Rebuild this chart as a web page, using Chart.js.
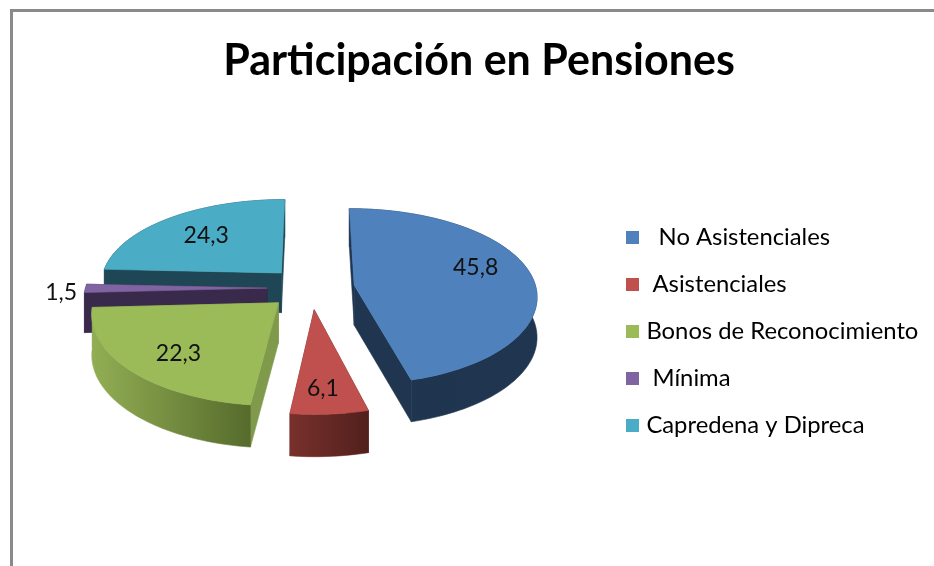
<!DOCTYPE html>
<html>
<head>
<meta charset="utf-8">
<style>html,body{margin:0;padding:0;background:#fff}canvas{display:block;filter:blur(0.4px)}</style>
<script src="https://cdn.jsdelivr.net/npm/chart.js@4/dist/chart.umd.min.js"></script>
</head>
<body>
<div style="width:934px;height:566px"><canvas id="c" width="934" height="566"></canvas></div>
<script>
const categories = ["  No Asistenciales", " Asistenciales", "Bonos de Reconocimiento", " Mínima", "Capredena y Dipreca"];
const values = [45.8, 6.1, 22.3, 1.5, 24.3];
const chartTitle = "Participación en Pensiones";
const topColors = ["#4f81bd", "#c0504d", "#9bbb59", "#8064a2", "#4bacc6"];
const wallFrom = ["#20344f", "#78302c", "#92ae54", "#39294a", "#1e4654"];
const wallTo = ["#1f3550", "#52201c", "#566b2c", "#39294a", "#1e4654"];
const cutColors = ["#1f3550", "#6a2a27", "#7f9a4b", "#39294a", "#1e4654"];
const drawOrder = [4, 3, 0, 2, 1];
const labelRadius = [136, 143, 134, 211, 125];
const labelTurn = [-10, 1, -2.5, -2, 0.7];

const CX = 311, CY = 288, K = 0.472, Q = 3.15e-4, S = 6e-4, XS = 0.972;
function project(X, Y) {
  return { x: CX + XS * X * (1 + S * Y), y: CY + K * Y + Q * Y * Y };
}
function depthAt(Y) { return 40 + Y * 0.01; }

const pie3d = {
  id: 'pie3d',
  beforeDraw(chart) {
    const c = chart.ctx;
    c.save();
    c.fillStyle = '#fff';
    c.fillRect(0, 0, chart.width, chart.height);
    c.fillStyle = '#8a8a8a';
    c.fillRect(10, 9, chart.width - 10, 3);
    c.fillRect(10, 9, 3, chart.height - 9);
    c.restore();
  },
  afterLayout(chart) {
    const lg = chart.legend, tb = chart.titleBlock;
    if (lg) {
      const p = chart.options.plugins.legend.labels.padding;
      const dx = 630.5 - (lg.left + p);
      lg.left += dx; lg.right += dx;
      const dy = 214 - (lg.top + (lg.bottom - lg.top - lg.columnSizes[0].height) / 2 );
      lg.top += dy; lg.bottom += dy;
    }
    if (tb) { tb.left += 12; tb.right += 12; }
  },
  beforeDatasetsDraw(chart) {
    const c = chart.ctx;
    const arcs = chart.getDatasetMeta(0).data;
    const outline = arcs.map(a => {
      const o = a.options.offset, mid = (a.startAngle + a.endAngle) / 2;
      const ox = Math.cos(mid) * o, oy = Math.sin(mid) * o, r = a.outerRadius;
      const n = Math.max(2, Math.ceil((a.endAngle - a.startAngle) / 0.03));
      const rim = [];
      for (let i = 0; i <= n; i++) {
        const t = a.startAngle + (a.endAngle - a.startAngle) * i / n;
        rim.push({ X: ox + Math.cos(t) * r, Y: oy + Math.sin(t) * r });
      }
      return { apex: { X: ox, Y: oy }, rim, ox, oy, mid };
    });
    const wall = (pts, fill) => {
      const top = pts.map(p => project(p.X, p.Y));
      c.beginPath();
      top.forEach((q, k) => k ? c.lineTo(q.x, q.y) : c.moveTo(q.x, q.y));
      for (let k = pts.length - 1; k >= 0; k--) c.lineTo(top[k].x, top[k].y + depthAt(pts[k].Y));
      c.closePath();
      c.fillStyle = fill; c.strokeStyle = fill; c.lineWidth = 0.6;
      c.fill(); c.stroke();
    };
    drawOrder.forEach(i => {
      const s = outline[i];
      const xs = s.rim.map(p => project(p.X, p.Y).x);
      const g = c.createLinearGradient(Math.min(...xs), 0, Math.max(...xs), 0);
      g.addColorStop(0, wallFrom[i]); g.addColorStop(1, wallTo[i]);
      const first = s.rim[0], last = s.rim[s.rim.length - 1];
      wall([s.apex, first], cutColors[i]);
      wall([last, s.apex], cutColors[i]);
      wall(s.rim, g);
      c.beginPath();
      const a0 = project(s.apex.X, s.apex.Y);
      c.moveTo(a0.x, a0.y);
      s.rim.forEach(p => { const q = project(p.X, p.Y); c.lineTo(q.x, q.y); });
      c.closePath();
      c.fillStyle = topColors[i]; c.strokeStyle = topColors[i]; c.lineWidth = 0.6;
      c.fill(); c.stroke();
    });
    c.save();
    c.fillStyle = '#111';
    c.font = '23px Lato';
    c.textAlign = 'center';
    c.textBaseline = 'middle';
    outline.forEach((s, i) => {
      const t = s.mid + labelTurn[i] * Math.PI / 180;
      const p = project(s.ox + Math.cos(t) * labelRadius[i], s.oy + Math.sin(t) * labelRadius[i]);
      c.fillText(String(values[i]).replace('.', ','), p.x, p.y + 1);
    });
    c.restore();
    return false;
  }
};

new Chart(document.getElementById('c'), {
  type: 'pie',
  data: {
    labels: categories,
    datasets: [{ data: values, backgroundColor: topColors, borderWidth: 0, offset: 45, radius: 187 }]
  },
  plugins: [pie3d],
  options: {
    responsive: false,
    animation: false,
    radius: 187,
    events: [],
    layout: { padding: 0 },
    plugins: {
      tooltip: { enabled: false },
      title: {
        display: true,
        text: chartTitle,
        color: '#000',
        font: { family: 'Lato', size: 43, weight: 'bold' },
        padding: { top: 35, bottom: 30 }
      },
      legend: {
        display: true,
        position: 'right',
        labels: {
          color: '#1a1a1a',
          font: { family: 'Lato', size: 23.8 },
          boxWidth: 4,
          boxHeight: 4,
          padding: 23.2,
          generateLabels: chart => chart.data.labels.map((t, i) => ({
            text: t, fillStyle: topColors[i], strokeStyle: topColors[i], lineWidth: 9, hidden: false, index: i
          }))
        }
      }
    }
  }
});
</script>
</body>
</html>
